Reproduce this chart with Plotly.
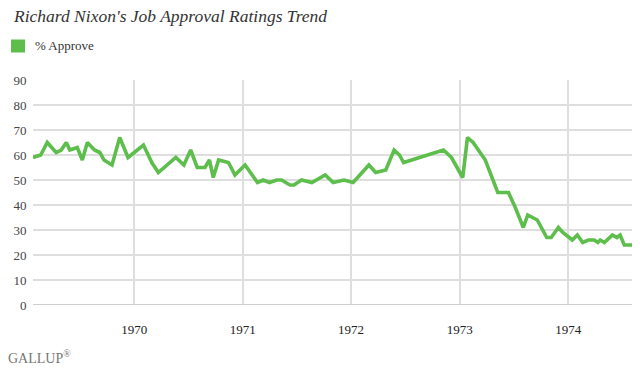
import plotly.graph_objects as go

# Gallup poll dates (approximate) and % approve
dates = [
    "1969-01-25", "1969-02-20", "1969-03-14", "1969-04-13", "1969-04-30", "1969-05-17",
    "1969-05-29", "1969-06-23", "1969-07-10", "1969-07-27", "1969-08-20", "1969-09-07",
    "1969-09-21", "1969-10-18", "1969-11-13", "1969-12-11",
    "1970-02-01", "1970-03-01", "1970-03-23", "1970-04-21", "1970-05-21", "1970-06-17",
    "1970-07-10", "1970-08-01", "1970-08-27", "1970-09-11", "1970-09-24", "1970-10-12",
    "1970-11-14", "1970-12-06",
    "1971-01-09", "1971-02-20", "1971-03-11", "1971-04-01", "1971-04-26", "1971-05-12",
    "1971-06-09", "1971-06-23", "1971-07-18", "1971-08-22", "1971-10-06", "1971-11-02",
    "1971-12-08",
    "1972-01-08", "1972-01-31", "1972-03-01", "1972-03-24", "1972-04-27", "1972-05-25",
    "1972-06-12", "1972-06-26", "1972-11-07", "1972-12-04",
    "1973-01-11", "1973-01-27", "1973-02-15", "1973-03-28", "1973-05-09", "1973-06-14",
    "1973-07-07", "1973-08-03", "1973-08-18", "1973-09-19", "1973-10-21", "1973-11-05",
    "1973-11-29", "1973-12-14",
    "1974-01-15", "1974-02-01", "1974-02-19", "1974-03-10", "1974-03-30", "1974-04-11",
    "1974-04-19", "1974-05-03", "1974-05-30", "1974-06-14", "1974-06-25", "1974-07-09",
    "1974-08-04",
]
approve = [
    59, 60, 65, 61, 62, 65,
    62, 63, 58, 65, 62, 61,
    58, 56, 67, 59,
    64, 57, 53, 56, 59, 56,
    62, 55, 55, 58, 51, 58,
    57, 52,
    56, 49, 50, 49, 50, 50,
    48, 48, 50, 49, 52, 49,
    50,
    49, 52, 56, 53, 54, 62,
    60, 57, 62, 59,
    51, 67, 65, 58, 45, 45,
    39, 31, 36, 34, 27, 27,
    31, 29,
    26, 28, 25, 26, 26, 25,
    26, 25, 28, 27, 28, 24,
    24,
]

year_ticks = ["1970-01-01", "1971-01-01", "1972-01-01", "1973-01-01", "1974-01-01"]
year_labels = ["1970", "1971", "1972", "1973", "1974"]
y_ticks = [0, 10, 20, 30, 40, 50, 60, 70, 80, 90]

title_text = "Richard Nixon's Job Approval Ratings Trend"
series_name = "% Approve"

GREEN = "#5dbe4c"
GRID = "#dedede"
SERIF = "Liberation Serif, DejaVu Serif, serif"

fig = go.Figure()
fig.add_trace(go.Scatter(
    x=dates, y=approve, mode="lines", name=series_name,
    line=dict(color=GREEN, width=3.6), showlegend=False,
))

fig.update_layout(
    width=640, height=376,
    margin=dict(l=33, r=8, t=80, b=71),
    paper_bgcolor="white", plot_bgcolor="white",
    font=dict(family=SERIF, color="#444"),
    xaxis=dict(
        range=[dates[0], dates[-1]],
        tickvals=year_ticks, ticktext=year_labels,
        showgrid=True, gridcolor=GRID, gridwidth=1.5,
        zeroline=False, showline=False,
        ticks="outside", ticklen=12, tickcolor="rgba(0,0,0,0)",
        tickfont=dict(size=13, color="#222"),
    ),
    yaxis=dict(
        range=[0, 90], tickvals=y_ticks,
        showgrid=True, gridcolor=GRID, gridwidth=1.5,
        zeroline=False, showline=False,
        ticks="outside", ticklen=3, tickcolor="rgba(0,0,0,0)",
        tickfont=dict(size=13, color="#444"),
    ),
    shapes=[
        dict(type="line", xref="paper", yref="y", x0=0, x1=1, y0=0, y1=0,
             line=dict(color="#cfcfcf", width=2)),
        dict(type="rect", xref="paper", yref="paper",
             x0=-22 / 599, x1=-8 / 599, y0=1 + 27.5 / 225, y1=1 + 40.5 / 225,
             fillcolor=GREEN, line=dict(width=0)),
    ],
    annotations=[
        dict(text=title_text, xref="paper", yref="paper", x=-22 / 599, y=1 + 64 / 225,
             xanchor="left", yanchor="middle", showarrow=False,
             font=dict(family=SERIF, size=17.5, color="#333", style="italic")),
        dict(text=series_name, xref="paper", yref="paper", x=0, y=1 + 34 / 225,
             xanchor="left", yanchor="middle", showarrow=False,
             font=dict(family=SERIF, size=13, color="#333")),
        dict(text="GALLUP<sup>®</sup>", xref="paper", yref="paper", x=-27 / 599, y=-52 / 225,
             xanchor="left", yanchor="middle", showarrow=False,
             font=dict(family=SERIF, size=14, color="#777")),
    ],
)

fig.write_html(
    "out.html",
    config={"displayModeBar": False},
    post_script="document.body.style.margin='0';document.body.style.overflow='hidden';",
)
